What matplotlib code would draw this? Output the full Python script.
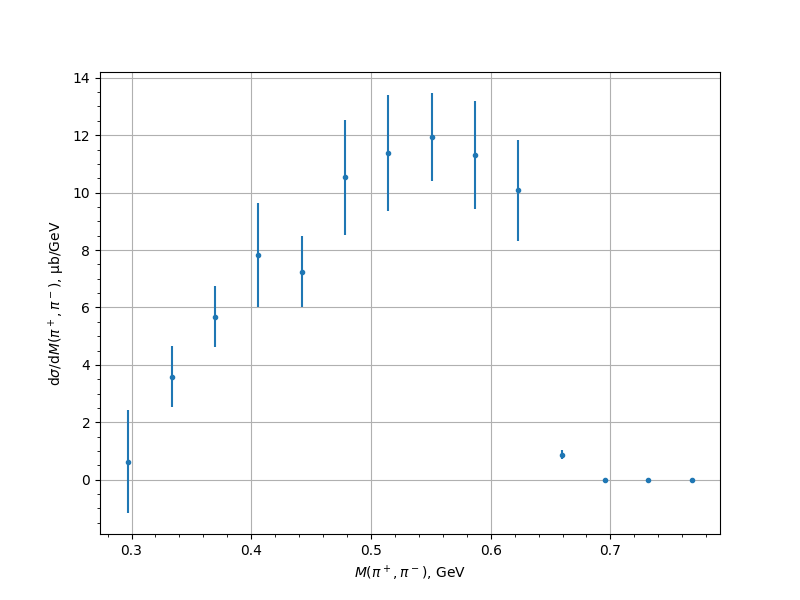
import matplotlib
matplotlib.use("Agg")
import matplotlib.pyplot as plt

mass = [0.2972, 0.3334, 0.3696, 0.4058, 0.4421, 0.4783, 0.5145, 0.5507, 0.5869, 0.6231, 0.6594, 0.6956, 0.7318, 0.7680]
xsec = [0.63, 3.59, 5.67, 7.83, 7.24, 10.53, 11.38, 11.94, 11.31, 10.08, 0.87, 0.0, 0.0, 0.0]
err = [1.79, 1.05, 1.06, 1.81, 1.24, 2.0, 2.02, 1.53, 1.87, 1.75, 0.16, 0.0, 0.0, 0.0]

fig, ax = plt.subplots(figsize=(8, 6), dpi=100)
ax.errorbar(mass, xsec, yerr=err, fmt='.')
ax.grid(True)
ax.minorticks_on()
ax.set_xlabel(r'$M(\pi^+,\pi^-)$, GeV')
ax.set_ylabel(r'd$\sigma$/d$M(\pi^+,\pi^-)$, μb/GeV')
fig.savefig('out.png')
